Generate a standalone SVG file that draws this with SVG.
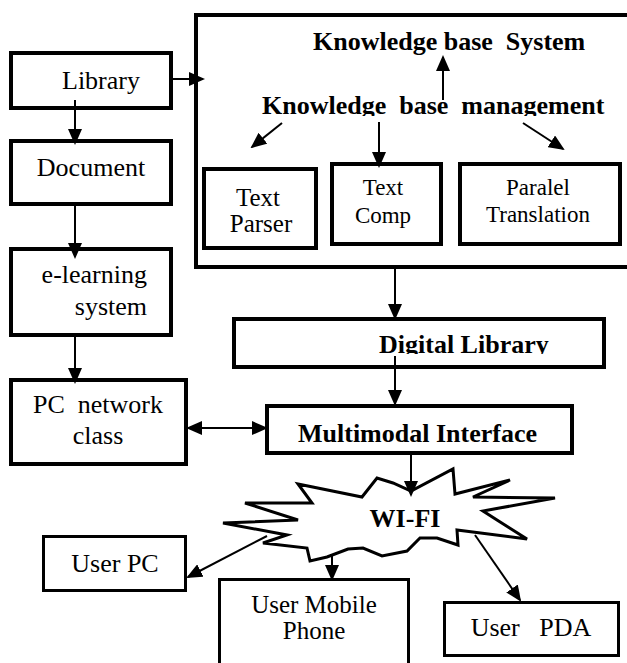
<svg xmlns="http://www.w3.org/2000/svg" width="627" height="663" viewBox="0 0 627 663">
<style>
.box{fill:#fff;stroke:#000;stroke-width:4}
.thin{fill:#fff;stroke:#000;stroke-width:3}
text{font-family:'Liberation Serif','DejaVu Serif',serif;font-size:26px;fill:#000}
.s{font-size:23px}
.b{font-weight:bold}
.m{text-anchor:middle}
.c{stroke:#000;stroke-width:2;fill:none;marker-end:url(#ah)}
</style>
<defs>
<marker id="ah" markerUnits="userSpaceOnUse" markerWidth="16" markerHeight="14" viewBox="0 0 16 14" refX="14" refY="7" orient="auto-start-reverse">
<path d="M0,0 L16,7 L0,14 z" fill="#000"/>
</marker>
<clipPath id="clipKbm"><rect x="0" y="0" width="627" height="116"/></clipPath>
<clipPath id="clipDl"><rect x="0" y="300" width="627" height="54"/></clipPath>
</defs>

<g id="kbs">
<rect class="box" x="196" y="15" width="450" height="252"/>
<text class="b" x="313" y="50" font-family="Liberation Serif, serif" xml:space="preserve">Knowledge base  System</text>
<text class="b" x="262" y="114" font-family="Liberation Serif, serif" clip-path="url(#clipKbm)" xml:space="preserve">Knowledge  base  management</text>
</g>
<g id="library">
<rect class="box" x="11" y="53" width="160" height="55"/>
<text class="m" x="101" y="89" font-family="Liberation Serif, serif">Library</text>
</g>
<g id="document">
<rect class="box" x="11" y="141" width="160" height="63"/>
<text class="m" x="91" y="176" font-family="Liberation Serif, serif">Document</text>
</g>
<g id="elearning">
<rect class="box" x="11" y="249" width="160" height="86"/>
<text x="147" y="283" text-anchor="end" font-family="Liberation Serif, serif">e-learning</text>
<text x="147" y="315" text-anchor="end" font-family="Liberation Serif, serif">system</text>
</g>
<g id="pcnetwork">
<rect class="box" x="11" y="380" width="175" height="84"/>
<text class="m" x="98" y="413" font-family="Liberation Serif, serif" xml:space="preserve">PC  network</text>
<text class="m" x="98" y="444" font-family="Liberation Serif, serif">class</text>
</g>
<g id="textparser">
<rect class="box" x="204" y="169" width="112" height="79"/>
<text class="m" x="258" y="206" font-family="Liberation Serif, serif" style="font-size:25px">Text</text>
<text class="m" x="261" y="232" font-family="Liberation Serif, serif" style="font-size:25px">Parser</text>
</g>
<g id="textcomp">
<rect class="box" x="332" y="164" width="109" height="80"/>
<text class="s m" x="383" y="195" font-family="Liberation Serif, serif">Text</text>
<text class="s m" x="383" y="223" font-family="Liberation Serif, serif">Comp</text>
</g>
<g id="paralel">
<rect class="box" x="460" y="164" width="160" height="80"/>
<text class="s m" x="538" y="195" font-family="Liberation Serif, serif">Paralel</text>
<text class="s m" x="538" y="222" font-family="Liberation Serif, serif">Translation</text>
</g>
<g id="digital">
<rect class="box" x="234" y="319" width="370" height="48"/>
<text class="b" x="379" y="353" font-family="Liberation Serif, serif" clip-path="url(#clipDl)">Digital Library</text>
</g>
<g id="multimodal">
<rect class="box" x="267" y="406" width="305" height="47"/>
<text class="b" x="298" y="442" font-family="Liberation Serif, serif">Multimodal Interface</text>
</g>
<g id="wifi">
<polygon class="thin" points="298,484 362,497 377,478 393,483 411,491 453,469 455,494 510,480 473,497 555,498 483,511 497,520 527,539 457,530 458,545 437,538 420,538 407,551 382,556 363,548 348,549 327,557 310,561 307,548 263,543 287,535 223,523 298,520 245,503 312,503"/>
<text class="b m" x="405" y="527" font-family="Liberation Serif, serif">WI-FI</text>
</g>
<g id="userpc">
<rect class="thin" x="43.5" y="536.5" width="142" height="54"/>
<text class="m" x="115" y="572" font-family="Liberation Serif, serif">User PC</text>
</g>
<g id="usermobile">
<rect class="thin" x="219.5" y="579.5" width="189" height="100"/>
<text class="m" x="314" y="613" font-family="Liberation Serif, serif" style="font-size:25px">User Mobile</text>
<text class="m" x="314" y="639" font-family="Liberation Serif, serif" style="font-size:25px">Phone</text>
</g>
<g id="userpda">
<rect class="thin" x="444.5" y="602.5" width="174" height="53"/>
<text class="m" x="531" y="636" font-family="Liberation Serif, serif" xml:space="preserve">User   PDA</text>
</g>

<g id="connectors">
<line class="c" x1="75" y1="100" x2="75" y2="143"/>
<line class="c" x1="75" y1="205" x2="75" y2="257"/>
<line class="c" x1="75" y1="336" x2="75" y2="382"/>
<line class="c" x1="172" y1="79" x2="203" y2="79"/>
<line class="c" x1="443" y1="100" x2="443" y2="57"/>
<line class="c" x1="282" y1="123" x2="252" y2="147"/>
<line class="c" x1="379" y1="122" x2="379" y2="166"/>
<line class="c" x1="523" y1="123" x2="563" y2="149"/>
<line class="c" x1="395" y1="268" x2="395" y2="318"/>
<line class="c" x1="395" y1="356" x2="395" y2="404"/>
<line class="c" x1="188" y1="428" x2="266" y2="428" style="marker-start:url(#ah)"/>
<line class="c" x1="411" y1="453" x2="411" y2="495"/>
<line class="c" x1="267" y1="536" x2="188" y2="577"/>
<line class="c" x1="332" y1="555" x2="332" y2="579"/>
<line class="c" x1="475" y1="535" x2="520" y2="600"/>
</g>
</svg>
